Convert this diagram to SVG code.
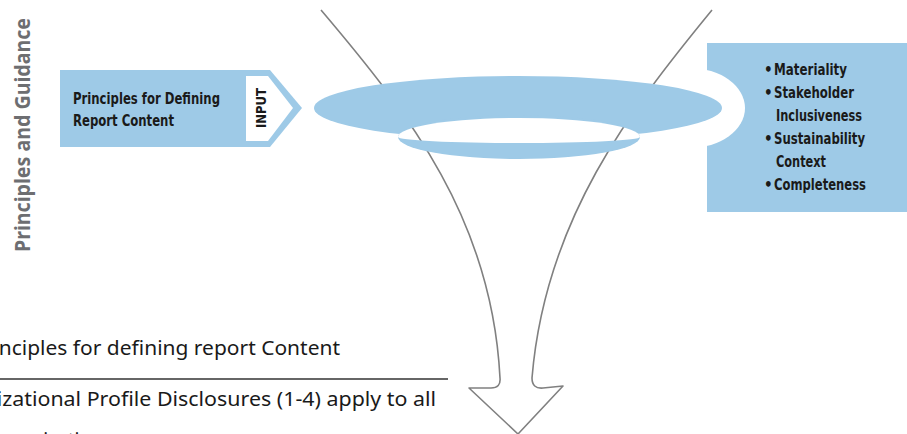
<svg xmlns="http://www.w3.org/2000/svg" width="907" height="434" viewBox="0 0 907 434">
  <style>
    .blue { fill: #9ecae7; }
    .bold { font-family: "Liberation Sans Narrow", "DejaVu Sans Condensed", "Liberation Sans", sans-serif; font-weight: bold; fill: #1a1a1a; }
    .reg { font-family: "Noto Sans", "Open Sans", "Liberation Sans", sans-serif; fill: #1a1a1a; font-size: 19px; }
    .side { font-family: "Noto Sans", "Liberation Sans", sans-serif; font-weight: bold; fill: #6d6e71; font-size: 22px; }
    .conn { fill: none; stroke: #808080; stroke-width: 1.6; stroke-linejoin: round; }
  </style>
  <defs>
    <mask id="hole" maskUnits="userSpaceOnUse" x="0" y="0" width="907" height="434">
      <rect x="0" y="0" width="907" height="434" fill="#fff"/>
      <path d="M398,137 A121,19 0 0 1 640,137 A121,6 0 0 1 398,137 Z" fill="#000"/>
    </mask>
  </defs>
  <rect width="907" height="434" fill="#fff"/>

  <g id="side-label">
    <text class="side" transform="translate(30,252) rotate(-90)" textLength="234" lengthAdjust="spacingAndGlyphs">Principles and Guidance</text>
  </g>

  <g id="principles-list">
    <rect class="blue" x="707" y="43" width="200" height="169"/>
    <ellipse cx="690" cy="108" rx="55" ry="40" fill="#fff"/>
    <g class="bold" font-size="15">
      <text x="764" y="75">•</text>
      <text x="774" y="75" textLength="73" lengthAdjust="spacingAndGlyphs">Materiality</text>
      <text x="764" y="98">•</text>
      <text x="774" y="98" textLength="80" lengthAdjust="spacingAndGlyphs">Stakeholder</text>
      <text x="776" y="121" textLength="86" lengthAdjust="spacingAndGlyphs">Inclusiveness</text>
      <text x="764" y="144">•</text>
      <text x="774" y="144" textLength="91" lengthAdjust="spacingAndGlyphs">Sustainability</text>
      <text x="776" y="167" textLength="50" lengthAdjust="spacingAndGlyphs">Context</text>
      <text x="764" y="190">•</text>
      <text x="774" y="190" textLength="92" lengthAdjust="spacingAndGlyphs">Completeness</text>
    </g>
  </g>

  <g id="input-box">
    <path class="blue" d="M60,70 L270,70 L302,108 L270,147 L60,147 Z"/>
    <path d="M246,76 L268,76 L293,108 L268,141 L246,141 Z" fill="#fff"/>
    <text class="bold" font-size="16" x="73" y="104" textLength="147" lengthAdjust="spacingAndGlyphs">Principles for Defining</text>
    <text class="bold" font-size="16" x="73" y="125.5" textLength="101" lengthAdjust="spacingAndGlyphs">Report Content</text>
    <text class="bold" font-size="14" text-anchor="middle" transform="translate(266,108) rotate(-90)" textLength="40" lengthAdjust="spacingAndGlyphs">INPUT</text>
  </g>

  <g id="connectors">
    <path class="conn" d="M321,10 C410,115 492,220 500,378 Q501,388 491,388 L469,388 L518,434 L563,386 L543,388 Q532,389 532,378 C545,220 630,110 712,10"/>
  </g>

  <g id="funnel-ring" mask="url(#hole)">
    <ellipse class="blue" cx="518" cy="108" rx="204" ry="32"/>
    <ellipse class="blue" cx="519" cy="137" rx="121" ry="22"/>
  </g>

  <g id="table-text">
    <text class="reg" x="-28" y="355" textLength="368" lengthAdjust="spacingAndGlyphs">Principles for defining report Content</text>
    <line x1="0" y1="379" x2="448" y2="379" stroke="#333" stroke-width="1.3"/>
    <text class="reg" x="-67" y="406" textLength="503" lengthAdjust="spacingAndGlyphs">Organizational Profile Disclosures (1-4) apply to all</text>
    <text class="reg" x="-10" y="447">organizations</text>
  </g>
</svg>
